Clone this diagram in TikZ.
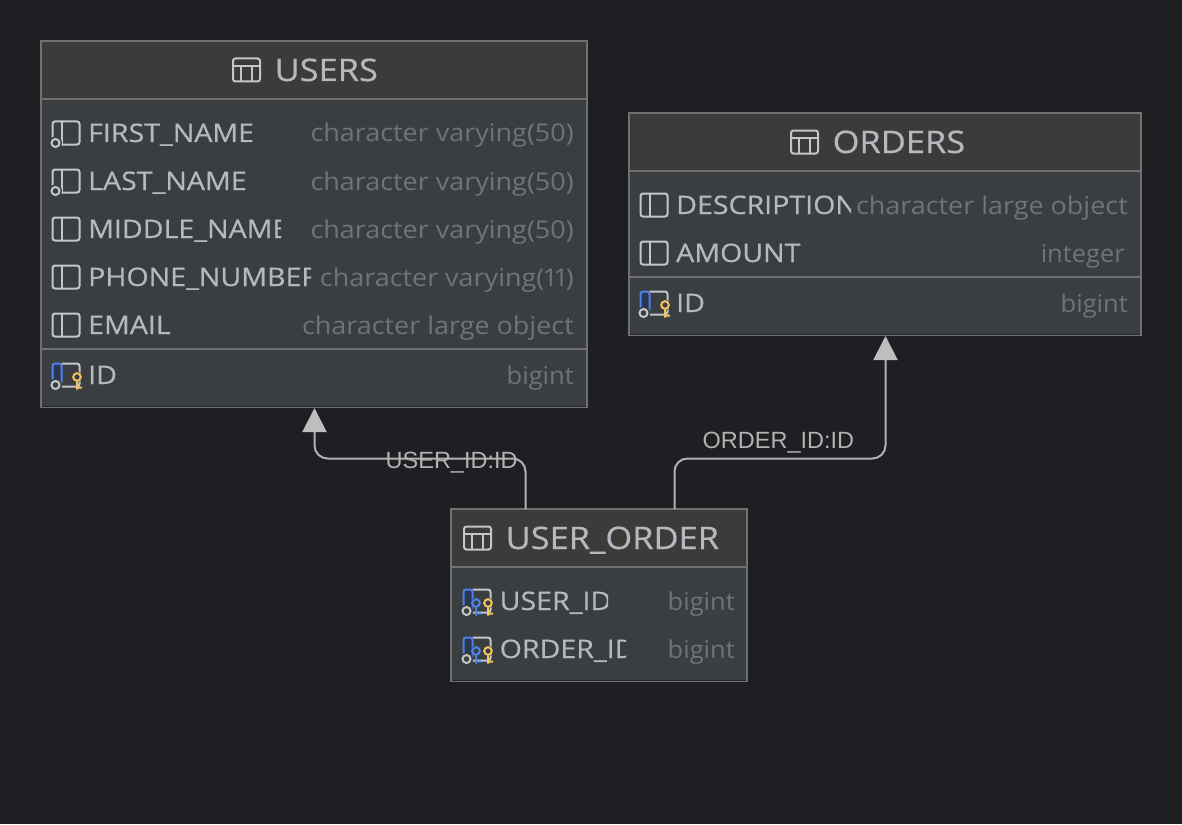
\documentclass[tikz,border=0pt]{standalone}
\usepackage{fontspec}
\setmainfont{Open Sans}
\newfontfamily\edgefont{Liberation Sans}
\newfontfamily\namefont[FakeStretch=1.12,FakeBold=0.55]{Open Sans}
\newfontfamily\titlefont[FakeStretch=1.11,FakeBold=0.6]{Open Sans}
\newfontfamily\typefont[FakeStretch=1.10,Numbers=Proportional]{Open Sans}
\newfontfamily\shorttypefont[FakeStretch=1.04]{Open Sans}
\usetikzlibrary{arrows.meta,calc}
\definecolor{canvas}{HTML}{1E1F22}
\definecolor{headfill}{HTML}{3C3B3A}
\definecolor{bodyfill}{HTML}{3B3E41}
\definecolor{frame}{HTML}{707070}
\definecolor{innerdark}{HTML}{26282B}
\definecolor{nametext}{HTML}{B4B8BF}
\definecolor{typetext}{HTML}{6F737A}
\definecolor{iconline}{HTML}{C4C6CB}
\definecolor{keyblue}{HTML}{4F82E8}
\definecolor{keydark}{HTML}{2A3650}
\definecolor{keygold}{HTML}{F2C55C}
\definecolor{edgecol}{HTML}{B2B2B2}
\definecolor{tipcol}{HTML}{BEBEBE}
\newcommand{\keyshape}[1]{%
    \fill[bodyfill] (0,0) circle (5.5);
    \draw[draw=#1,line width=2pt] (0,0) circle (3.8) (0,3.8) -- (0,12.5) (0,10.5) -- (5,10.5);}
\tikzset{
  boxbody/.style={draw=frame,line width=1.5pt,fill=bodyfill,rectangle,inner sep=0pt,outer sep=0pt,anchor=north west},
  boxhead/.style={draw=frame,line width=1.5pt,fill=headfill,rectangle,inner sep=0pt,outer sep=0pt,anchor=north west},
  rule/.style={draw=frame,line width=1.5pt},
  darkrule/.style={draw=innerdark,line width=1pt},
  titletext/.style={text=nametext,inner sep=0pt,anchor=base west,font=\titlefont\fontsize{31}{31}\selectfont},
  nametxt/.style={text=nametext,inner sep=0pt,anchor=base west,font=\namefont\fontsize{25.5}{26}\selectfont},
  typetxt/.style={text=typetext,inner sep=0pt,anchor=base east,font=\typefont\fontsize{24.5}{25}\selectfont},
  shorttype/.style={text=typetext,inner sep=0pt,anchor=base east,font=\shorttypefont\fontsize{24.5}{25}\selectfont},
  edgetxt/.style={text=edgecol,inner sep=0pt,anchor=base west,font=\edgefont\fontsize{23.5}{24}\selectfont},
  edgeline/.style={draw=edgecol,line width=2pt,rounded corners=13pt,-{Triangle[width=24pt,length=24pt,color=tipcol]}},
  ico/.style={draw=iconline,line width=2pt},
  tableicon/.pic={
    \draw[ico,rounded corners=2.5pt] (0,-11.5) rectangle (27,11.5);
    \draw[ico] (0,-4) -- (27,-4) (8,-4) -- (8,11.5) (19,-4) -- (19,11.5);
  },
  plainicon/.pic={
    \draw[ico,rounded corners=2.5pt] (0,-11.5) rectangle (27,11.5);
    \draw[ico] (9,-11.5) -- (9,11.5);
  },
  nullicon/.pic={
    \draw[ico,rounded corners=2.5pt] (0,-11.5) rectangle (27,11.5);
    \draw[ico] (9,-11.5) -- (9,11.5);
    \fill[bodyfill] (3,10) circle (6.5);
    \draw[ico] (3,10) circle (4);
  },
  pkicon/.pic={
    \draw[ico,rounded corners=2.5pt] (9,-11.5) -- (27,-11.5) -- (27,11.5) -- (9,11.5);
    \filldraw[draw=keyblue,fill=keydark,line width=2pt,rounded corners=2.5pt] (9,-11.5) -- (0,-11.5) -- (0,9) -- (9,9) -- cycle;
    \fill[bodyfill] (3,10) circle (6.5);
    \draw[ico] (3,10) circle (4);
  },
  goldkey/.pic={\keyshape{keygold}},
  bluekey/.pic={\keyshape{keyblue}},
}
\newcommand{\clipname}[5]{% node, x, y(baseline), clip right, text
  \begin{scope}
    \clip (#2-2,#3-30) rectangle (#4,#3+12);
    \node[nametxt] (#1) at (#2,#3) {#5};
  \end{scope}}
\begin{document}
\begin{tikzpicture}[x=1pt,y=-1pt]
\useasboundingbox[fill=canvas] (0,0) rectangle (1182,824);

% USERS
\node[boxbody,minimum width=546pt,minimum height=366pt] (users) at (41,41) {};
\node[boxhead,minimum width=546pt,minimum height=58pt] (usershead) at (41,41) {};
\draw[rule] (41,349) -- (587,349);
\draw[darkrule] (42,406) -- (586,406);
\pic at (233,70) {tableicon};
\node[titletext] (userstitle) at (274.5,81) {USERS};
\pic at (52.5,133) {nullicon};
\pic at (52.5,181) {nullicon};
\pic at (52.5,229) {plainicon};
\pic at (52.5,277) {plainicon};
\pic at (52.5,325) {plainicon};
\pic at (52.5,375) {pkicon};
\pic at (77,377) {goldkey};
\clipname{un1}{88}{142}{254}{FIRST\_NAME}
\clipname{un2}{88}{190}{249}{LAST\_NAME}
\clipname{un3}{88}{238}{281}{MIDDLE\_NAME}
\clipname{un4}{88}{286}{311}{PHONE\_NUMBER}
\clipname{un5}{88}{334}{300}{EMAIL}
\clipname{un6}{88}{384}{300}{ID}
\node[typetxt] (ut1) at (574,142) {character varying(50)};
\node[typetxt] (ut2) at (574,190) {character varying(50)};
\node[typetxt] (ut3) at (574,238) {character varying(50)};
\node[typetxt] (ut4) at (574,286) {character varying(11)};
\node[typetxt] (ut5) at (574,334) {character large object};
\node[shorttype] (ut6) at (574,384) {bigint};

% ORDERS
\node[boxbody,minimum width=512pt,minimum height=222pt] (orders) at (629,113) {};
\node[boxhead,minimum width=512pt,minimum height=58pt] (ordershead) at (629,113) {};
\draw[rule] (629,277) -- (1141,277);
\draw[darkrule] (630,334) -- (1140,334);
\pic at (791,142) {tableicon};
\node[titletext] (orderstitle) at (832.5,153) {ORDERS};
\pic at (640.5,205) {plainicon};
\pic at (640.5,253) {plainicon};
\pic at (640.5,303) {pkicon};
\pic at (665,305) {goldkey};
\clipname{on1}{676}{214}{851}{DESCRIPTION}
\clipname{on2}{676}{262}{850}{AMOUNT}
\clipname{on3}{676}{312}{850}{ID}
\node[typetxt] (ot1) at (1128,214) {character large object};
\node[shorttype] (ot2) at (1125,262) {integer};
\node[shorttype] (ot3) at (1128,312) {bigint};

% USER_ORDER
\node[boxbody,minimum width=296pt,minimum height=172pt] (uo) at (451,509) {};
\node[boxhead,minimum width=296pt,minimum height=58pt] (uohead) at (451,509) {};
\draw[darkrule] (452,680) -- (746,680);
\pic at (464,538) {tableicon};
\node[titletext] (uotitle) at (505.5,549) {USER\_ORDER};
\pic at (463.5,601) {pkicon};
\pic at (476,603) {bluekey};
\pic at (488,603) {goldkey};
\pic at (463.5,649) {pkicon};
\pic at (476,651) {bluekey};
\pic at (488,651) {goldkey};
\clipname{uon1}{499.5}{610}{608}{USER\_ID}
\clipname{uon2}{499.5}{658}{626}{ORDER\_ID}
\node[shorttype] (uot1) at (735,610) {bigint};
\node[shorttype] (uot2) at (735,658) {bigint};

% Connectors
\coordinate (e1a) at ($(uo.north west)+(74.5,0)$);
\coordinate (e1b) at (525.5,458.5);
\coordinate (e1c) at (314.5,458.5);
\coordinate (e1d) at ($(users.south west)+(273.5,1)$);
\draw[edgeline] (e1a) -- (e1b) -- (e1c) -- (e1d);
\coordinate (e2a) at ($(uo.north west)+(223.5,0)$);
\coordinate (e2b) at (674.5,458.5);
\coordinate (e2c) at (885.5,458.5);
\coordinate (e2d) at ($(orders.south west)+(256.5,1)$);
\draw[edgeline] (e2a) -- (e2b) -- (e2c) -- (e2d);
\node[edgetxt] (e1lab) at (385.5,468) {USER\_ID:ID};
\node[edgetxt] (e2lab) at (702.5,448) {ORDER\_ID:ID};
\end{tikzpicture}
\end{document}
